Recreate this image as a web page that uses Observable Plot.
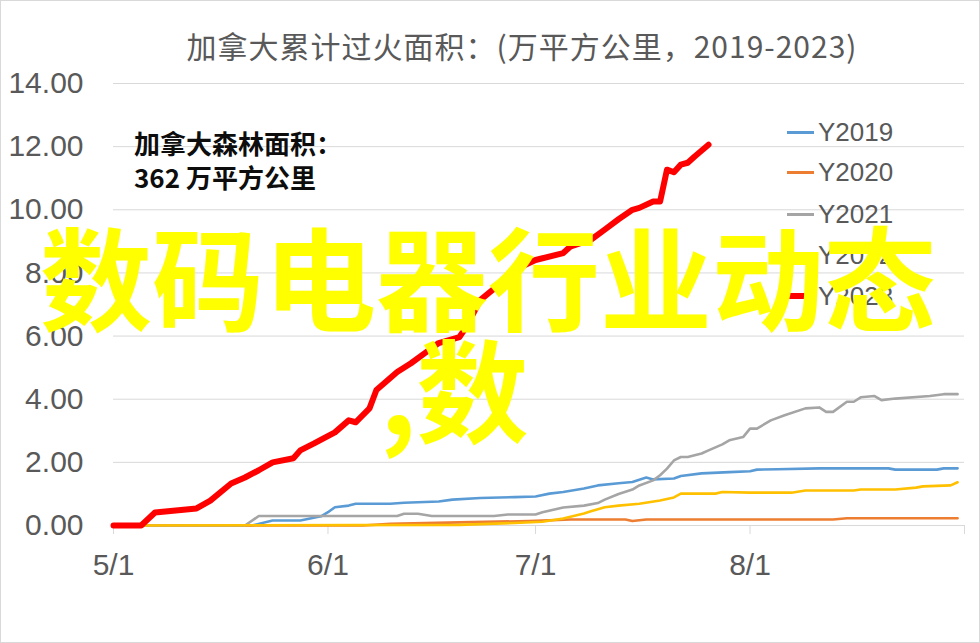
<!DOCTYPE html>
<html>
<head>
<meta charset="utf-8">
<script src="https://cdn.jsdelivr.net/npm/d3@7"></script>
<script src="https://cdn.jsdelivr.net/npm/@observablehq/plot@0.6"></script>
<style>
  html, body { margin: 0; padding: 0; background: #fff; }
  #wrap { position: relative; width: 980px; height: 643px; overflow: hidden; background: #fff; }
  #wrap svg { position: absolute; left: 0; top: 0; }
  .abs { position: absolute; white-space: nowrap; }
  #frame { position: absolute; left: 0; top: 0; width: 980px; height: 643px; box-sizing: border-box; border: 1px solid #d9d9d9; pointer-events: none; }
  #title { left: 522px; top: 23px; transform: translateX(-50%); font-family: "Noto Sans CJK SC", sans-serif; font-size: 30px; letter-spacing: 1px; color: #595959; }
  .note { left: 134px; font-family: "Noto Sans CJK SC", sans-serif; font-weight: 700; font-size: 26px; color: #0d0d0d; }
  .leg { left: 787px; font-family: "Liberation Sans Narrow", "Liberation Sans", sans-serif; font-size: 26px; color: #595959; display: flex; align-items: center; }
  .leg i { display: inline-block; width: 27px; margin-right: 4px; }
  .wm { font-family: "Noto Sans CJK SC", sans-serif; font-weight: 700; font-size: 112px; line-height: 112px; color: #ffff00; }
</style>
</head>
<body>
<div id="wrap"></div>
<script>
// ---- data (x = calendar day of the fire season, values in 万平方公里) ----
const seriesNames = ["Y2019", "Y2020", "Y2021", "Y2022", "Y2023"];
const seriesColors = ["#5b9bd5", "#ed7d31", "#a5a5a5", "#ffc000", "#ff0000"];

const dates2019 = ["05-01","05-21","05-24","05-28","05-31","06-01","06-02","06-04","06-05","06-10","06-12","06-17","06-19","06-23","06-28","07-01","07-03","07-05","07-08","07-10","07-13","07-15","07-17","07-18","07-21","07-22","07-25","07-29","08-01","08-02","08-05","08-11","08-21","08-22","08-28","08-29","08-31"];
const values2019 = [0,0,0.16,0.16,0.29,0.42,0.58,0.63,0.69,0.69,0.72,0.76,0.82,0.87,0.90,0.92,1.01,1.06,1.17,1.27,1.34,1.38,1.52,1.46,1.49,1.57,1.65,1.69,1.72,1.77,1.78,1.81,1.81,1.77,1.77,1.81,1.81];

const dates2020 = ["05-01","06-06","06-10","06-20","06-30","07-06","07-14","07-15","07-17","08-13","08-15","08-31"];
const values2020 = [0,0,0.05,0.10,0.14,0.19,0.19,0.14,0.19,0.19,0.23,0.23];

const dates2021 = ["05-01","05-20","05-22","06-11","06-12","06-14","06-16","06-25","06-27","07-01","07-02","07-05","07-08","07-10","07-11","07-13","07-15","07-16","07-18","07-19","07-20","07-21","07-22","07-23","07-25","07-26","07-28","07-29","07-31","08-01","08-02","08-04","08-06","08-09","08-11","08-12","08-13","08-15","08-16","08-17","08-19","08-20","08-22","08-27","08-29","08-31"];
const values2021 = [0,0,0.30,0.30,0.37,0.37,0.30,0.30,0.35,0.35,0.42,0.57,0.63,0.71,0.82,1.00,1.14,1.27,1.43,1.59,1.80,2.06,2.17,2.17,2.28,2.38,2.57,2.70,2.80,3.07,3.07,3.33,3.49,3.71,3.74,3.60,3.60,3.92,3.92,4.06,4.10,3.97,4.02,4.10,4.16,4.16];

const dates2022 = ["05-01","06-20","06-28","07-02","07-05","07-08","07-09","07-11","07-13","07-16","07-19","07-21","07-22","07-27","07-28","08-01","08-07","08-09","08-16","08-17","08-22","08-25","08-26","08-30","08-31"];
const values2022 = [0,0.02,0.08,0.12,0.22,0.38,0.45,0.58,0.63,0.69,0.79,0.89,1.01,1.01,1.06,1.04,1.04,1.11,1.11,1.14,1.14,1.20,1.24,1.27,1.37];

const dates2023 = ["05-01","05-05","05-07","05-13","05-15","05-18","05-20","05-22","05-24","05-27","05-28","05-30","06-02","06-04","06-05","06-07","06-08","06-10","06-11","06-13","06-15","06-17","06-20","06-21","06-23","06-26","06-28","07-01","07-05","07-06","07-09","07-11","07-13","07-15","07-16","07-18","07-19","07-20","07-21","07-22","07-23","07-24","07-26"];
const values2023 = [0,0,0.41,0.54,0.79,1.33,1.52,1.75,2.00,2.13,2.38,2.60,2.95,3.33,3.27,3.71,4.29,4.67,4.86,5.14,5.46,5.78,5.97,6.29,7.14,7.68,8.10,8.41,8.63,8.83,9.05,9.37,9.70,10.00,10.06,10.26,10.26,11.27,11.19,11.43,11.49,11.69,12.06];

const xTicks = ["05-01","06-01","07-01","08-01","09-01"];
const xTickLabels = ["5/1","6/1","7/1","8/1",""];
const yTicks = [0,2,4,6,8,10,12,14];

const titleText = "加拿大累计过火面积：(万平方公里，2019-2023)";
const noteLines = ["加拿大森林面积：", "362 万平方公里"];
const watermarkLines = ["数码电器行业动态", ",数"];

// ---- build ----
const parse = s => d3.utcParse("%Y-%m-%d")("2023-" + s);
const allDates = [dates2019, dates2020, dates2021, dates2022, dates2023];
const allValues = [values2019, values2020, values2021, values2022, values2023];
const rows = [];
seriesNames.forEach((name, i) => {
  allDates[i].forEach((d, j) => rows.push({series: name, date: parse(d), value: allValues[i][j]}));
});
const tickDates = xTicks.map(parse);
const labelFor = new Map(tickDates.map((d, i) => [+d, xTickLabels[i]]));
const axisFont = "'Liberation Sans Narrow', 'Liberation Sans', sans-serif";

const marks = [
  Plot.gridY(yTicks.filter(v => v > 0), {stroke: "#d9d9d9", strokeOpacity: 1, strokeWidth: 1}),
  Plot.ruleY([0], {stroke: "#d9d9d9", strokeWidth: 1}),
  Plot.axisX(tickDates, {tickSize: 9, tickPadding: 19, stroke: "#d9d9d9", fill: "#595959", fontSize: 30, fontFamily: axisFont, tickFormat: d => labelFor.get(+d), label: null}),
  Plot.axisY(yTicks, {tickSize: 0, tickPadding: 30, fill: "#595959", fontSize: 30, fontFamily: axisFont, tickFormat: d3.format(".2f"), label: null})
];
seriesNames.forEach((name, i) => {
  marks.push(Plot.lineY(rows.filter(r => r.series === name), {
    x: "date", y: "value", stroke: seriesColors[i],
    strokeWidth: name === "Y2023" ? 6 : 2.6, strokeLinejoin: "round", strokeLinecap: "round"
  }));
});

const chart = Plot.plot({
  width: 980, height: 643,
  marginLeft: 113, marginRight: 16, marginTop: 83, marginBottom: 118,
  x: {type: "utc", domain: [parse("05-01"), parse("09-01")]},
  y: {domain: [0, 14]},
  style: {background: "transparent", overflow: "visible"},
  marks
});

const wrap = document.getElementById("wrap");
wrap.appendChild(chart);

function addDiv(cls, text, css) {
  const el = document.createElement("div");
  el.className = "abs " + cls;
  el.textContent = text;
  Object.assign(el.style, css || {});
  wrap.appendChild(el);
  return el;
}
const t = addDiv("", titleText); t.id = "title";
addDiv("note", noteLines[0], {top: "124px"});
addDiv("note", noteLines[1], {top: "158px"});

const legTops = [132, 172, 214, 255, 296];
seriesNames.forEach((name, i) => {
  const el = document.createElement("div");
  el.className = "abs leg";
  el.style.top = (legTops[i] - 16) + "px";
  el.style.height = "32px";
  const sw = document.createElement("i");
  sw.style.height = (name === "Y2023" ? 6 : 3) + "px";
  sw.style.background = seriesColors[i];
  el.appendChild(sw);
  el.appendChild(document.createTextNode(name));
  wrap.appendChild(el);
});

addDiv("wm", watermarkLines[0], {left: "40px", top: "218px"});
addDiv("wm", watermarkLines[1], {left: "380px", top: "330px"});

const fr = document.createElement("div"); fr.id = "frame"; wrap.appendChild(fr);
</script>
</body>
</html>
